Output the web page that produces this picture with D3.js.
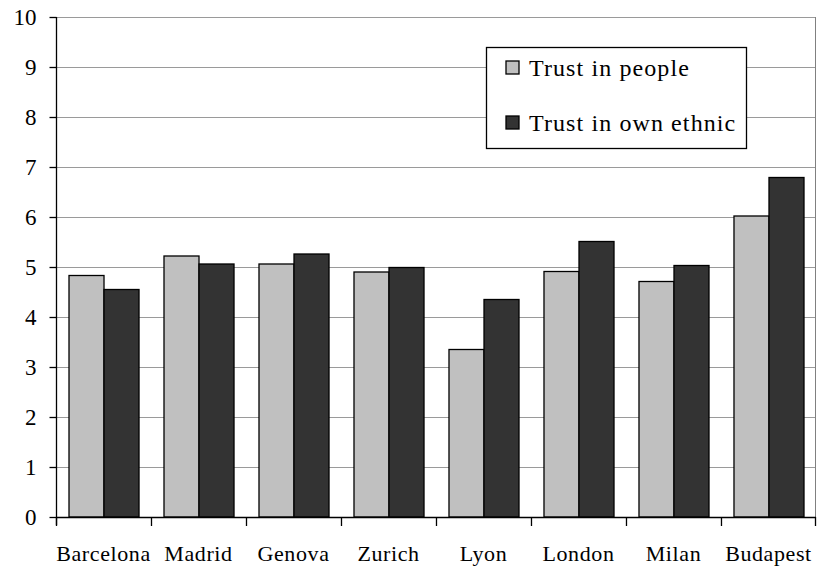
<!DOCTYPE html>
<html>
<head>
<meta charset="utf-8">
<script src="https://cdn.jsdelivr.net/npm/d3@7"></script>
<style>
  html, body { margin: 0; padding: 0; background: #fff; }
  svg { display: block; }
</style>
</head>
<body>
<svg id="chart" width="817" height="567"></svg>
<script>
// City survey results: average trust scores (0–10 scale)
const cities = ["Barcelona", "Madrid", "Genova", "Zurich", "Lyon", "London", "Milan", "Budapest"];
const trustInPeople = [4.83, 5.22, 5.06, 4.90, 3.35, 4.91, 4.71, 6.02];
const trustInOwnEthnic = [4.55, 5.06, 5.26, 4.99, 4.35, 5.51, 5.03, 6.79];
const seriesNames = ["Trust in people", "Trust in own ethnic"];
const seriesColors = ["#c0c0c0", "#333333"];
const yTicks = [0, 1, 2, 3, 4, 5, 6, 7, 8, 9, 10];

const FONT = "'Liberation Serif', 'Times New Roman', Times, 'DejaVu Serif', serif";

const svg = d3.select("#chart");
const margin = { left: 56, right: 1, top: 17, bottom: 50 };
const W = 817, H = 567;
const x0 = margin.left, x1 = W - margin.right;
const yTop = margin.top, yBot = H - margin.bottom;

const x = d3.scaleBand().domain(cities).range([x0, x1])
  .paddingInner(0.263).paddingOuter(0.1316);
const xs = d3.scaleBand().domain(seriesNames).range([0, x.bandwidth()]);
const y = d3.scaleLinear().domain([0, 10]).range([yBot, yTop]);

// horizontal gridlines
svg.append("g").selectAll("line").data(yTicks.filter(d => d > 0)).join("line")
  .attr("x1", x0).attr("x2", x1)
  .attr("y1", d => Math.round(y(d)) + 0.5).attr("y2", d => Math.round(y(d)) + 0.5)
  .attr("stroke", "#9a9a9a").attr("stroke-width", 1);

// right border of plot area
svg.append("line")
  .attr("x1", x1 - 0.5).attr("x2", x1 - 0.5)
  .attr("y1", y(10)).attr("y2", yBot)
  .attr("stroke", "#808080");

// bars
const rows = cities.map((c, i) => ({ city: c, values: [trustInPeople[i], trustInOwnEthnic[i]] }));
svg.append("g").selectAll("g").data(rows).join("g")
  .attr("transform", d => `translate(${x(d.city)},0)`)
  .selectAll("rect").data(d => d.values.map((v, k) => ({ v, k })))
  .join("rect")
  .attr("x", d => xs(seriesNames[d.k]) + 0.5)
  .attr("width", xs.bandwidth())
  .attr("y", d => y(d.v))
  .attr("height", d => yBot - y(d.v))
  .attr("fill", d => seriesColors[d.k])
  .attr("stroke", "#000").attr("stroke-width", 1.3);

// y axis
const yAxis = svg.append("g").attr("transform", `translate(${x0 + 0.5},0)`)
  .call(d3.axisLeft(y).tickValues(yTicks).tickSize(7).tickPadding(13).tickFormat(d3.format("d")));
yAxis.attr("font-family", null).attr("font-size", null);
yAxis.selectAll("line, path").attr("stroke", "#000").attr("stroke-width", 1.3);
yAxis.select(".domain").attr("d", `M0,${yTop}V${yBot + 8}`);
yAxis.selectAll("text").style("font-family", FONT).style("font-size", "23px").attr("fill", "#000");

// x axis: ticks on category boundaries
const bounds = cities.map(c => x(c) - x.step() * x.paddingOuter()).concat([x1]);
svg.append("line").attr("x1", x0).attr("x2", x1)
  .attr("y1", yBot + 0.5).attr("y2", yBot + 0.5).attr("stroke", "#000").attr("stroke-width", 1.3);
svg.append("g").selectAll("line").data(bounds).join("line")
  .attr("x1", d => Math.min(d, x1 - 1) + 0.5).attr("x2", d => Math.min(d, x1 - 1) + 0.5)
  .attr("y1", yBot).attr("y2", yBot + 9)
  .attr("stroke", "#000").attr("stroke-width", 1.3);
svg.append("g").selectAll("text").data(cities).join("text")
  .attr("x", d => x(d) + x.bandwidth() / 2)
  .attr("y", yBot + 44)
  .attr("text-anchor", "middle")
  .style("font-family", FONT)
  .style("font-size", "22px")
  .style("letter-spacing", "0.6px")
  .text(d => d);

// legend
const lg = svg.append("g");
lg.append("rect").attr("x", 486.5).attr("y", 47.5).attr("width", 260).attr("height", 101)
  .attr("fill", "#fff").attr("stroke", "#000").attr("stroke-width", 1.3);
seriesNames.forEach((name, k) => {
  const cy = 68 + k * 55;
  lg.append("rect").attr("x", 506).attr("y", cy - 7).attr("width", 13).attr("height", 13)
    .attr("fill", seriesColors[k]).attr("stroke", "#000").attr("stroke-width", 1.3);
  lg.append("text").attr("x", 529).attr("y", cy + 7.5)
    .style("font-family", FONT)
    .style("font-size", "24px")
    .style("letter-spacing", "1.1px")
    .text(name);
});
</script>
</body>
</html>
